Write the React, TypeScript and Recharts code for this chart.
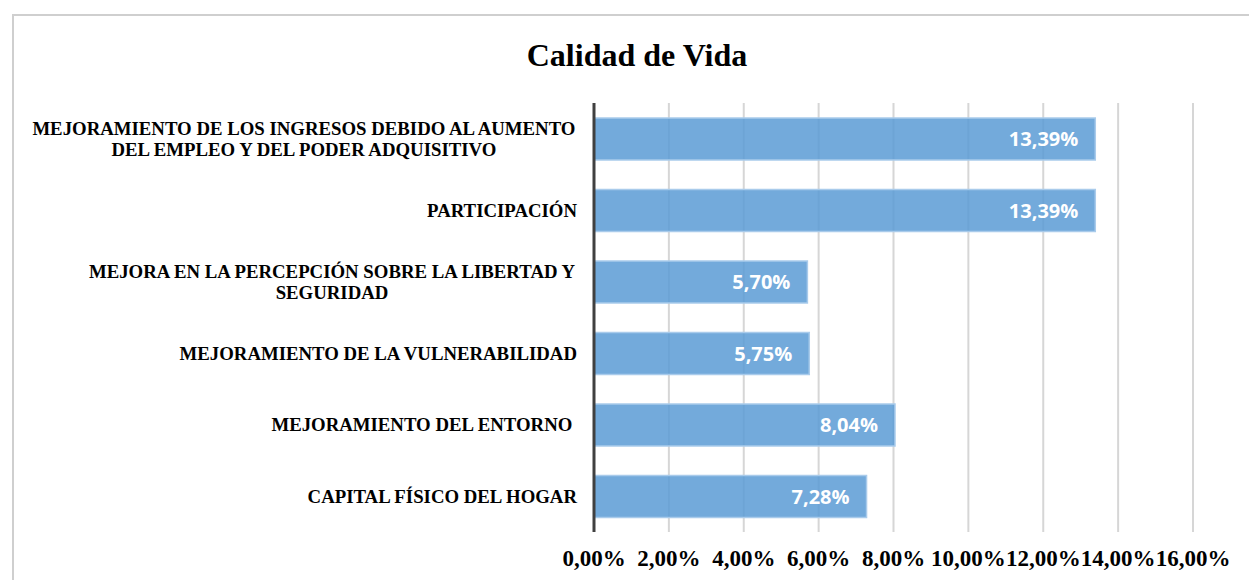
import React from 'react';
import { BarChart, Bar, XAxis, YAxis, CartesianGrid, LabelList } from 'recharts';

const categories: string[][] = [
  ['MEJORAMIENTO DE LOS INGRESOS DEBIDO AL AUMENTO', 'DEL EMPLEO Y DEL PODER ADQUISITIVO'],
  ['PARTICIPACIÓN'],
  ['MEJORA EN LA PERCEPCIÓN SOBRE LA LIBERTAD Y', 'SEGURIDAD'],
  ['MEJORAMIENTO DE LA VULNERABILIDAD'],
  ['MEJORAMIENTO DEL ENTORNO '],
  ['CAPITAL FÍSICO DEL HOGAR'],
];
const values: number[] = [0.1339, 0.1339, 0.057, 0.0575, 0.0804, 0.0728];
const xTicks: number[] = [0, 0.02, 0.04, 0.06, 0.08, 0.1, 0.12, 0.14, 0.16];
const title = 'Calidad de Vida';

const data = categories.map((c, i) => ({ key: String(i), lines: c, value: values[i] }));

const pct = (v: number) => (v * 100).toFixed(2).replace('.', ',') + '%';

const LABEL_FONT = "bold 18.8px 'Liberation Serif'";
let ctx: CanvasRenderingContext2D | null = null;
const measure = (t: string) => {
  if (!ctx) {
    const c = document.createElement('canvas');
    ctx = c.getContext('2d');
  }
  if (!ctx) return t.length * 10;
  ctx.font = LABEL_FONT;
  return ctx.measureText(t).width;
};

const CatTick = (props: any) => {
  const { x, y, payload } = props;
  const idx = Number(payload.value);
  const lines = categories[idx] || [];
  const lh = 21;
  const widths = lines.map(measure);
  const maxW = Math.max(...widths);
  const cx = x - maxW / 2;
  const y0 = y - ((lines.length - 1) * lh) / 2;
  return (
    <g>
      {lines.map((l, i) => (
        <text
          key={i}
          x={lines.length > 1 ? cx : x}
          y={y0 + i * lh}
          dy="0.35em"
          textAnchor={lines.length > 1 ? 'middle' : 'end'}
          style={{ font: LABEL_FONT, whiteSpace: 'pre' }}
          fill="#000"
        >
          {l}
        </text>
      ))}
    </g>
  );
};

export default function App() {
  return (
    <div style={{ position: 'absolute', left: 0, top: 0, width: 1249, height: 580, overflow: 'hidden', background: '#fff' }}>
      <div
        style={{
          position: 'absolute',
          left: 12,
          top: 14,
          width: 1300,
          height: 620,
          border: '2px solid #cfcfcf',
          boxSizing: 'border-box',
        }}
      />
      <div
        style={{
          position: 'absolute',
          left: 0,
          width: 1274,
          top: 39,
          textAlign: 'center',
          fontFamily: "'Liberation Serif'",
          fontWeight: 'bold',
          fontSize: 32,
          lineHeight: 1,
          color: '#000',
        }}
      >
        {title}
      </div>
      <div style={{ position: 'absolute', left: 0, top: 0 }}>
        <BarChart
          width={1249}
          height={580}
          layout="vertical"
          data={data}
          margin={{ top: 103, right: 56, bottom: 0, left: 0 }}
          barSize={42}
        >
          <CartesianGrid horizontal={false} vertical={true} stroke="#d6d6d6" strokeWidth={2} />
          <XAxis
            type="number"
            domain={[0, 0.16]}
            ticks={xTicks}
            tickFormatter={pct}
            axisLine={false}
            tickLine={false}
            tickSize={0}
            tickMargin={18}
            height={48}
            interval={0}
            tick={{ fill: '#000', fontFamily: "'Liberation Serif'", fontWeight: 'bold', fontSize: 23 }}
          />
          <YAxis
            type="category"
            dataKey="key"
            width={594}
            axisLine={{ stroke: '#404040', strokeWidth: 3 }}
            tickLine={false}
            tickSize={0}
            tickMargin={17}
            interval={0}
            tick={<CatTick />}
          />
          <Bar dataKey="value" fill="#5b9bd5" fillOpacity={0.85} stroke="#a9cbeb" strokeWidth={1.5} isAnimationActive={false}>
            <LabelList
              dataKey="value"
              position="insideRight"
              offset={17}
              formatter={(v: any) => pct(Number(v))}
              fill="#ffffff"
              style={{ fontFamily: "'Open Sans'", fontWeight: 'bold', fontSize: 20 }}
            />
          </Bar>
        </BarChart>
      </div>
    </div>
  );
}
